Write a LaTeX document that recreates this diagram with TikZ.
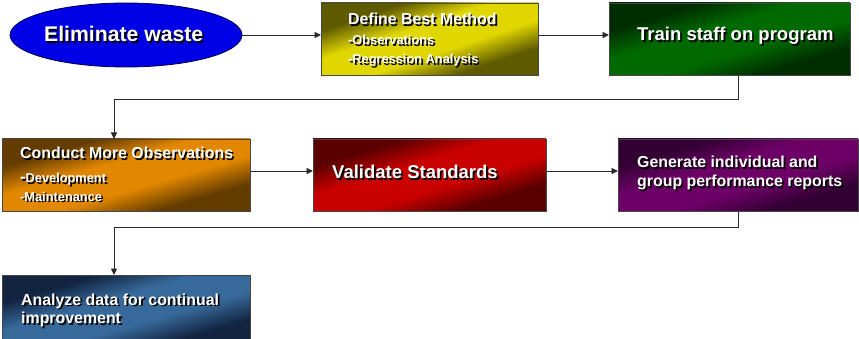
\documentclass[tikz,border=0pt]{standalone}
\usepackage{fontspec}
\setmainfont{Liberation Sans}
\usetikzlibrary{shapes.geometric,arrows.meta}
\definecolor{elimfill}{RGB}{0,0,230}
\definecolor{elimline}{RGB}{0,0,70}
\definecolor{defD}{RGB}{95,90,0}
\definecolor{defL}{RGB}{225,215,0}
\definecolor{trnD}{RGB}{0,45,0}
\definecolor{trnL}{RGB}{0,105,0}
\definecolor{conD}{RGB}{100,60,0}
\definecolor{conL}{RGB}{225,135,0}
\definecolor{valD}{RGB}{90,0,0}
\definecolor{valL}{RGB}{200,0,0}
\definecolor{genD}{RGB}{50,0,50}
\definecolor{genL}{RGB}{108,0,103}
\definecolor{anaD}{RGB}{18,36,64}
\definecolor{anaL}{RGB}{55,105,155}
\definecolor{boxline}{RGB}{70,70,70}
\definecolor{connc}{RGB}{40,40,40}
\colorlet{gD}{black}
\colorlet{gL}{white}
\pgfdeclareverticalshading[gD,gL]{diagband}{100bp}{color(0bp)=(gD); color(28bp)=(gD); color(42bp)=(gL); color(58bp)=(gL); color(72bp)=(gD); color(100bp)=(gD)}
\newcommand\shd[1]{\leavevmode\rlap{\kern1.7pt\raisebox{-1.7pt}{\color{black}#1}}#1}
\newcommand\fsz[1]{\fontsize{#1}{#1}\selectfont}
% diagonal gradient fill of a box: x, y (top left), w, h, dark, light
\newcommand\gradfill[6]{%
  \pgfmathsetmacro\gxs{#3/#4}%
  \colorlet{gD}{#5}\colorlet{gL}{#6}%
  \begin{scope}[transform canvas={shift={({#1+#3/2},{#2+#4/2})}, xscale=\gxs}]
    \shade[shading=diagband, shading angle=45] ({-#4/2},{-#4/2}) rectangle ({#4/2},{#4/2});
  \end{scope}}
\begin{document}
\begin{tikzpicture}[x=1pt,y=-1pt,
  box/.style={draw=boxline, line width=0.8pt, rectangle, anchor=north west, inner sep=0pt, minimum height=72pt},
  txt/.style={anchor=base west, inner sep=0pt, text=white},
  big/.style={font=\bfseries\fsz{21.2}},
  mid/.style={font=\bfseries\fsz{18.5}},
  head/.style={font=\bfseries\fsz{15.9}},
  sub/.style={font=\bfseries\fsz{12.8}},
  conn/.style={draw=connc, line width=0.8pt},
  arr/.style={conn, -{Triangle[length=6.5pt,width=6pt]}}
]
\useasboundingbox (0,0) rectangle (859,339);
% gradient fills
\gradfill{321}{3}{217}{72}{defD}{defL}
\gradfill{609}{3}{241}{72}{trnD}{trnL}
\gradfill{2}{139}{248}{72}{conD}{conL}
\gradfill{313}{139}{233}{72}{valD}{valL}
\gradfill{618}{139}{240}{72}{genD}{genL}
\gradfill{2}{275}{248}{72}{anaD}{anaL}
% row 1
\node[ellipse, draw=elimline, line width=0.8pt, fill=elimfill, minimum width=232pt, minimum height=64pt, inner sep=0pt] (elim) at (126,35) {};
\node[txt, big] (elimt) at (44,42) {\shd{Eliminate waste}};
\node[box, minimum width=217pt] (define) at (321,3) {};
\node[txt, head] (definet1) at (348,24.5) {\shd{Define Best Method}};
\node[txt, sub] (definet2) at (348,45) {\shd{-Observations}};
\node[txt, sub] (definet3) at (348,63.5) {\shd{-Regression Analysis}};
\node[box, minimum width=241pt] (train) at (609,3) {};
\node[txt, mid] (traint) at (637,41) {\shd{Train staff on program}};
% row 2
\node[box, minimum width=248pt] (conduct) at (2,139) {};
\node[txt, head] (conductt1) at (20,158.5) {\shd{Conduct More Observations}};
\node[txt, sub] (conductt2) at (20,182.5) {\shd{{\fsz{16.5}-}Development}};
\node[txt, sub] (conductt3) at (20,201) {\shd{-Maintenance}};
\node[box, minimum width=233pt] (validate) at (313,139) {};
\node[txt, mid] (validatet) at (332,178.5) {\shd{Validate Standards}};
\node[box, minimum width=240pt] (generate) at (618,139) {};
\node[txt, head] (generatet1) at (637,167.5) {\shd{Generate individual and}};
\node[txt, head] (generatet2) at (637,186.5) {\shd{group performance reports}};
% row 3
\node[box, minimum width=248pt] (analyze) at (2,275) {};
\node[txt, head] (analyzet1) at (21,305) {\shd{Analyze data for continual}};
\node[txt, head] (analyzet2) at (21,323.5) {\shd{improvement}};
% connectors
\draw[arr] (elim.east) -- (elim.east -| define.west);
\draw[arr] (define.east |- elim.east) -- (elim.east -| train.west);
\coordinate (r2) at (0,171);
\draw[arr] (conduct.east |- r2) -- (validate.west |- r2);
\draw[arr] (validate.east |- r2) -- (generate.west |- r2);
\coordinate (k1) at (738,99);
\coordinate (k2) at (114,99);
\draw[arr] (train.south -| k1) -- (k1) -- (k2) -- (conduct.north -| k2);
\coordinate (k3) at (738,227);
\coordinate (k4) at (114,227);
\draw[arr] (generate.south -| k3) -- (k3) -- (k4) -- (analyze.north -| k4);
\end{tikzpicture}
\end{document}
